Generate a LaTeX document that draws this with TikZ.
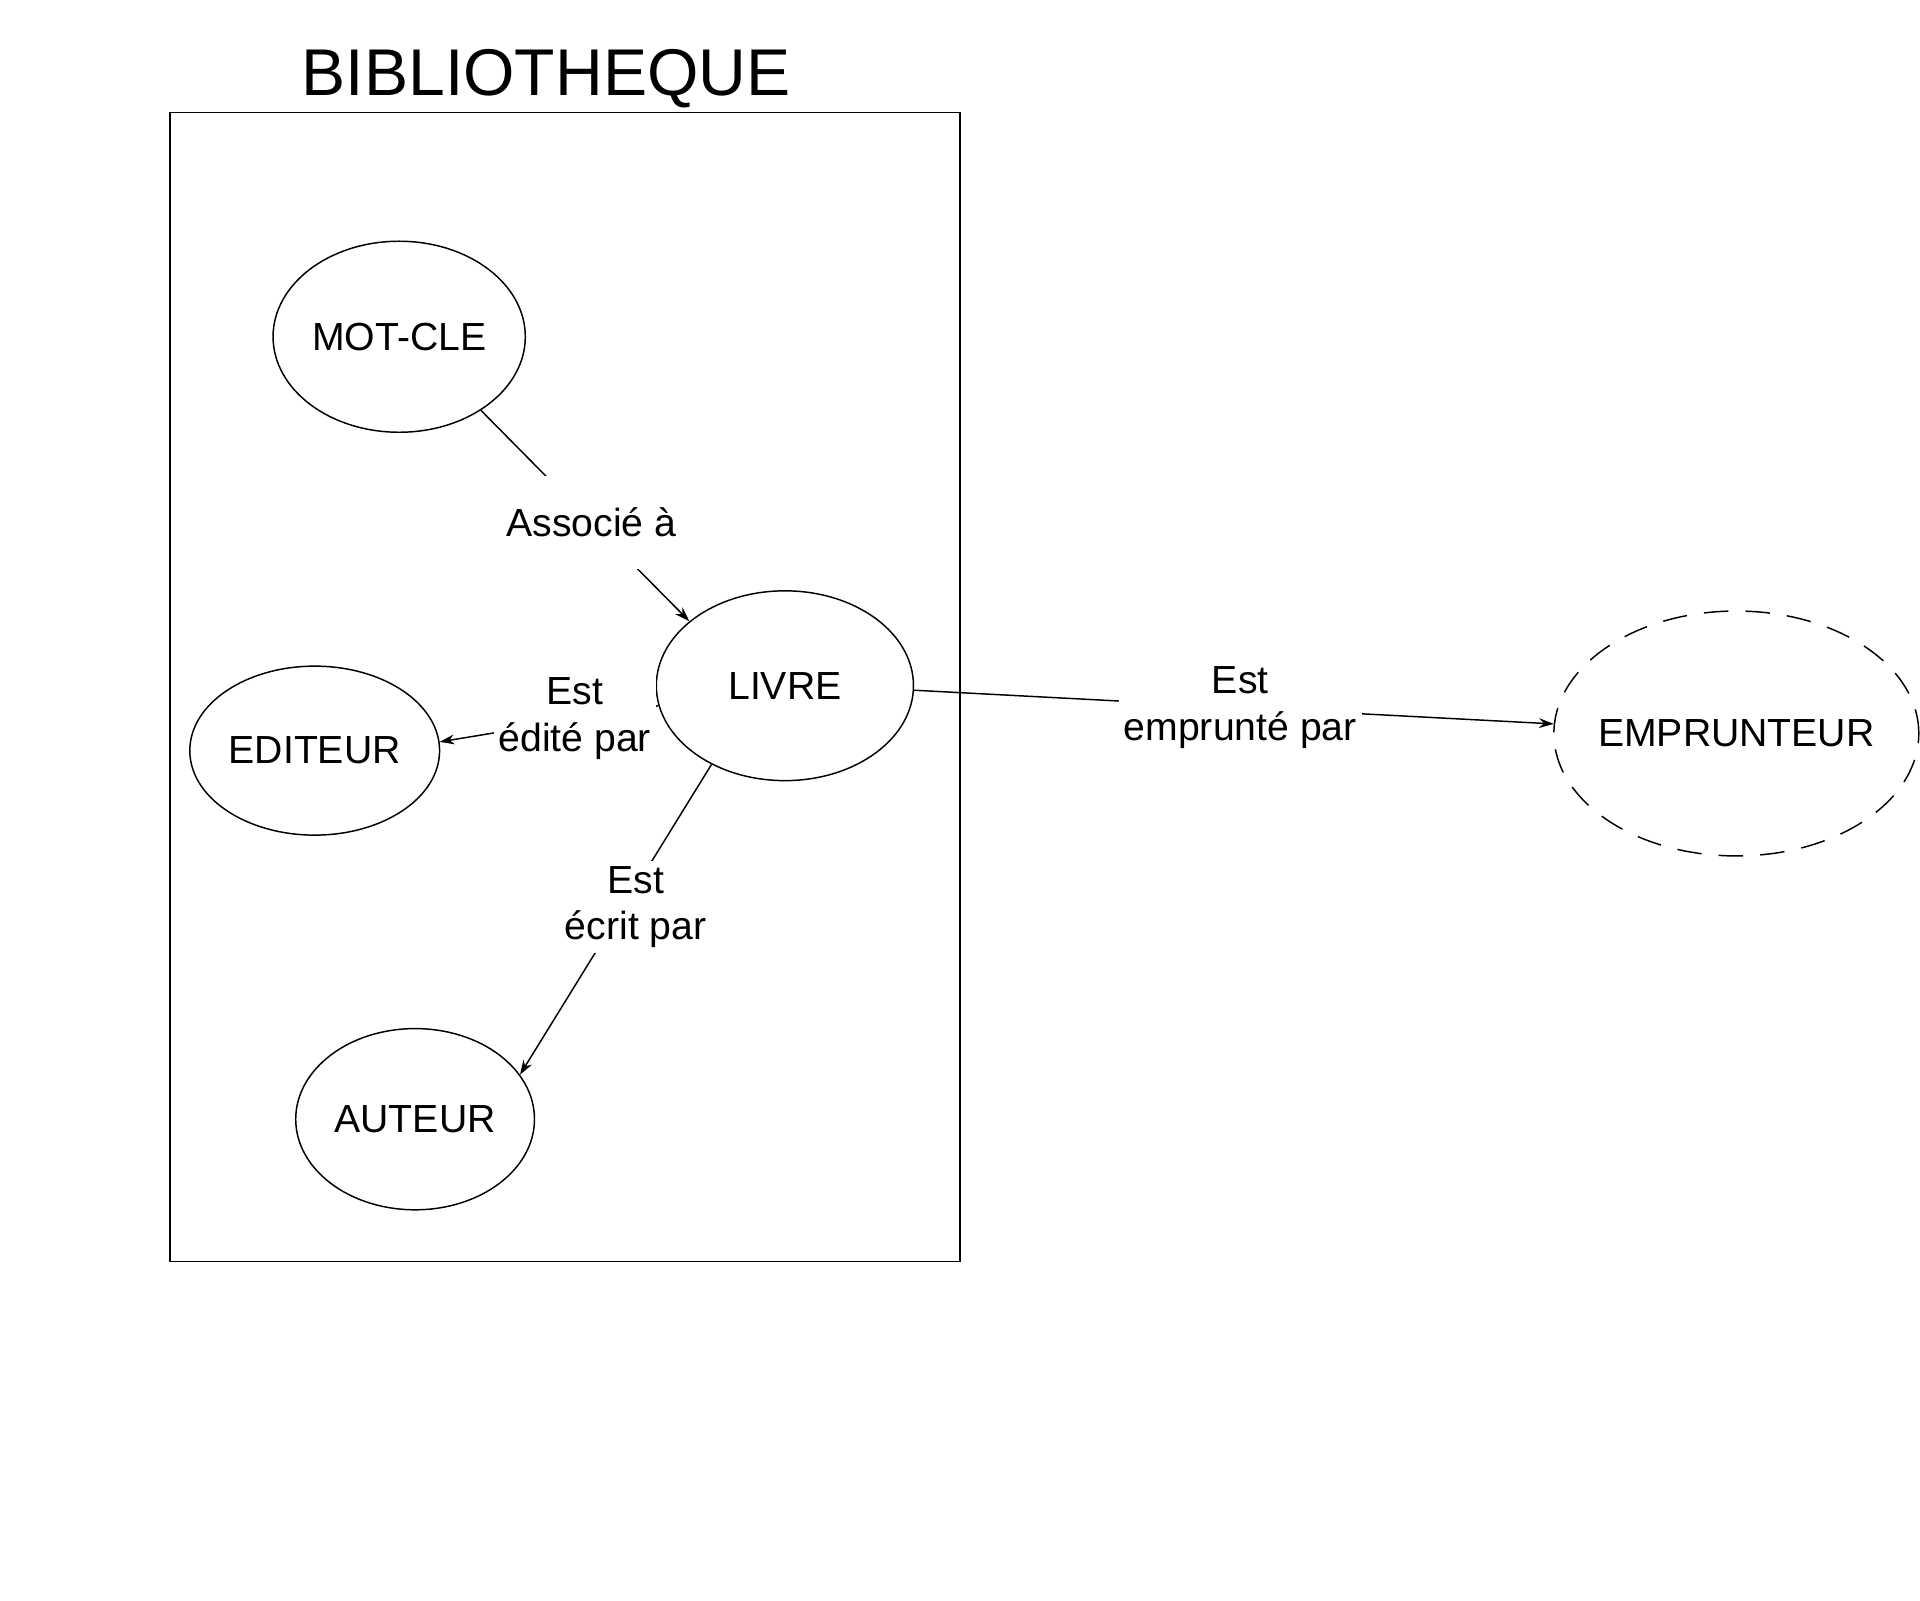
\documentclass[tikz,border=0pt]{standalone}
\usepackage{fontspec}
\setmainfont{Liberation Sans}
\usetikzlibrary{shapes.geometric,arrows.meta}
\begin{document}
\begin{tikzpicture}[x=0.5pt, y=-0.5pt, line width=0.6pt,
  entite/.style={ellipse, draw, inner sep=0pt, font=\fontsize{16}{19}\selectfont},
  etiquette/.style={fill=white, inner sep=2pt, align=center, font=\fontsize{16}{19}\selectfont},
  fleche/.style={-{Stealth[length=6pt, width=4pt]}}]
  \useasboundingbox (0, 0) rectangle (1568, 1306.7);
  \node[anchor=base, font=\fontsize{27}{32}\selectfont] (titre) at (446, 78) {BIBLIOTHEQUE};
  \draw (139, 92) rectangle (784, 1030);
  \node[entite, minimum width=103pt, minimum height=78pt] (motcle) at (326, 275) {MOT-CLE};
  \node[entite, minimum width=105pt, minimum height=77.5pt] (livre) at (641, 560) {LIVRE};
  \node[entite, minimum width=102pt, minimum height=69pt] (editeur) at (257, 613) {EDITEUR};
  \node[entite, minimum width=97.5pt, minimum height=74pt] (auteur) at (339, 914) {AUTEUR};
  \node[entite, dash pattern=on 10pt off 7pt, inner xsep=-4pt,
    minimum width=149pt, minimum height=100pt] (emprunteur) at (1418, 599) {EMPRUNTEUR};
  \draw[fleche] (motcle.-42) -- node[etiquette, pos=.53, inner ysep=13pt] (associe) {Associé à} (livre.146);
  \draw[fleche] (livre.189) -- node[etiquette, pos=.36, xshift=-2pt] (edite) {Est\\édité par} (editeur.4);
  \draw[fleche] (livre.227) -- node[etiquette, pos=.46, xshift=5pt] (ecrit) {Est\\écrit par} (auteur.23);
  \draw[fleche] (livre.358) -- node[etiquette, pos=.51] (emprunte) {Est\\emprunté par} (emprunteur.177);
\end{tikzpicture}
\end{document}
